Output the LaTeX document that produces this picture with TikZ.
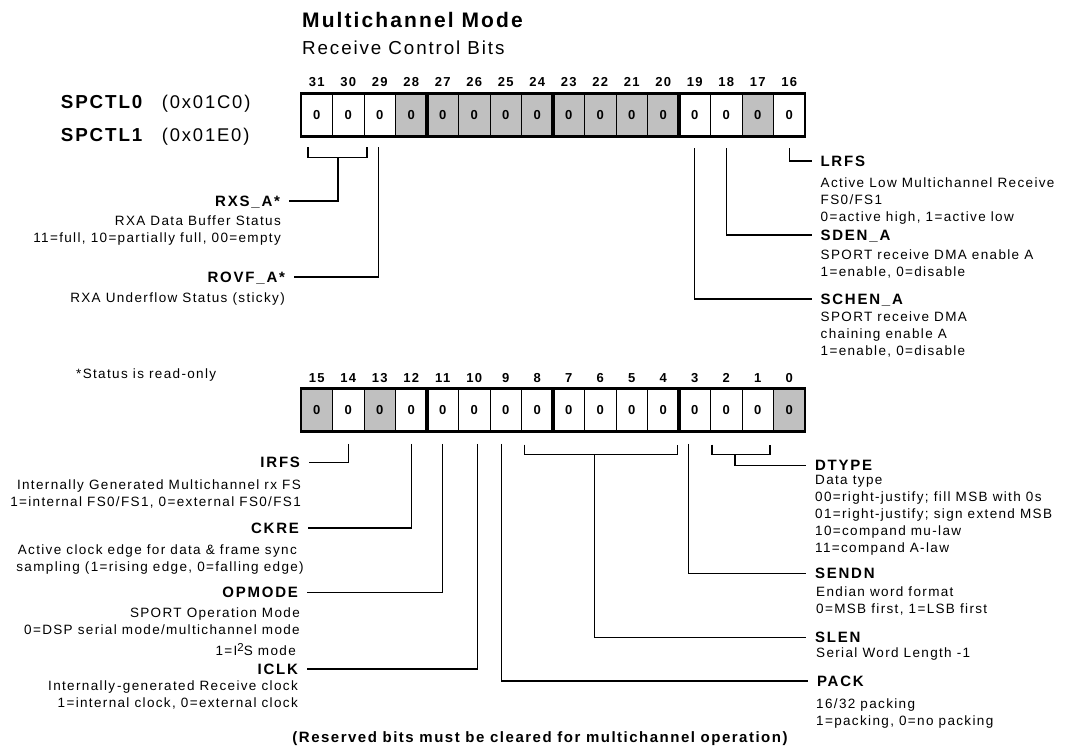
\documentclass[tikz,border=0pt]{standalone}
\usepackage{fontspec}
\setmainfont{Liberation Sans}
\newfontfamily\hv{Liberation Sans}[LetterSpace=10]
\newfontfamily\hvw{Liberation Sans}[LetterSpace=12]
\usepackage{tikz}
\usetikzlibrary{positioning}
\definecolor{resgray}{RGB}{192,192,192}

\begin{document}
\begin{tikzpicture}[x=1pt,y=-1pt,
  cell/.style={draw,line width=0.9pt,minimum width=31.5pt,minimum height=43pt,inner sep=0pt,outer sep=0pt,font=\hv\bfseries\fontsize{13}{14}\selectfont},
  bitno/.style={inner sep=0pt,font=\hv\bfseries\fontsize{13}{14}\selectfont},
  fname/.style={inner sep=0pt,outer xsep=9pt,text height=10.7pt,text depth=0pt,font=\hvw\bfseries\fontsize{15}{16}\selectfont},
  fdesc/.style={inner sep=0pt,font=\hv\fontsize{13.5}{17}\selectfont},
  conn/.style={line width=1.1pt}]
\useasboundingbox (0,0) rectangle (1072,748);
\fill[white] (0,0) rectangle (1072,748);
\node[anchor=west,inner sep=0pt,font=\hv\bfseries\fontsize{21}{22}\selectfont] (title) at (302,20){Multichannel Mode};
\node[anchor=west,inner sep=0pt,font=\hv\fontsize{18.8}{20}\selectfont] (subtitle) at (302,47.5){Receive Control Bits};
\node[anchor=base west,inner sep=0pt,font=\hv\bfseries\fontsize{18.8}{20}\selectfont] (spctl0) at (60.7,108.5){SPCTL0};
\node[anchor=base west,inner sep=0pt,font=\hv\fontsize{18.4}{20}\selectfont] (addr0) at (161.7,108.5){(0x01C0)};
\node[anchor=base west,inner sep=0pt,font=\hv\bfseries\fontsize{18.8}{20}\selectfont] (spctl1) at (60.7,141.8){SPCTL1};
\node[anchor=base west,inner sep=0pt,font=\hv\fontsize{18.4}{20}\selectfont] (addr1) at (161.7,141.8){(0x01E0)};
\node[anchor=base west,fdesc] (ronly) at (76,378.1){*Status is read-only};
\node[anchor=base,inner sep=0pt,font=\hv\bfseries\fontsize{15}{16}\selectfont] (note) at (540,742.5){(Reserved bits must be cleared for multichannel operation)};
\node[cell] (b31) at (316.75,114.7){0}; \node[cell] (b30) at (348.25,114.7){0};
\node[cell] (b29) at (379.75,114.7){0}; \node[cell,fill=resgray] (b28) at (411.25,114.7){0};
\node[cell,fill=resgray] (b27) at (442.75,114.7){0}; \node[cell,fill=resgray] (b26) at (474.25,114.7){0};
\node[cell,fill=resgray] (b25) at (505.75,114.7){0}; \node[cell,fill=resgray] (b24) at (537.25,114.7){0};
\node[cell,fill=resgray] (b23) at (568.75,114.7){0}; \node[cell,fill=resgray] (b22) at (600.25,114.7){0};
\node[cell,fill=resgray] (b21) at (631.75,114.7){0}; \node[cell,fill=resgray] (b20) at (663.25,114.7){0};
\node[cell] (b19) at (694.75,114.7){0}; \node[cell] (b18) at (726.25,114.7){0};
\node[cell,fill=resgray] (b17) at (757.75,114.7){0}; \node[cell] (b16) at (789.25,114.7){0};
\node[cell,fill=resgray] (b15) at (316.75,410.3){0}; \node[cell] (b14) at (348.25,410.3){0};
\node[cell,fill=resgray] (b13) at (379.75,410.3){0}; \node[cell] (b12) at (411.25,410.3){0};
\node[cell] (b11) at (442.75,410.3){0}; \node[cell] (b10) at (474.25,410.3){0};
\node[cell] (b9) at (505.75,410.3){0}; \node[cell] (b8) at (537.25,410.3){0};
\node[cell] (b7) at (568.75,410.3){0}; \node[cell] (b6) at (600.25,410.3){0};
\node[cell] (b5) at (631.75,410.3){0}; \node[cell] (b4) at (663.25,410.3){0};
\node[cell] (b3) at (694.75,410.3){0}; \node[cell] (b2) at (726.25,410.3){0};
\node[cell] (b1) at (757.75,410.3){0}; \node[cell,fill=resgray] (b0) at (789.25,410.3){0};
\node[bitno,above=6.5pt of b31] (n31){31}; \node[bitno,above=6.5pt of b30] (n30){30};
\node[bitno,above=6.5pt of b29] (n29){29}; \node[bitno,above=6.5pt of b28] (n28){28};
\node[bitno,above=6.5pt of b27] (n27){27}; \node[bitno,above=6.5pt of b26] (n26){26};
\node[bitno,above=6.5pt of b25] (n25){25}; \node[bitno,above=6.5pt of b24] (n24){24};
\node[bitno,above=6.5pt of b23] (n23){23}; \node[bitno,above=6.5pt of b22] (n22){22};
\node[bitno,above=6.5pt of b21] (n21){21}; \node[bitno,above=6.5pt of b20] (n20){20};
\node[bitno,above=6.5pt of b19] (n19){19}; \node[bitno,above=6.5pt of b18] (n18){18};
\node[bitno,above=6.5pt of b17] (n17){17}; \node[bitno,above=6.5pt of b16] (n16){16};
\node[bitno,above=6pt of b15] (n15){15}; \node[bitno,above=6pt of b14] (n14){14};
\node[bitno,above=6pt of b13] (n13){13}; \node[bitno,above=6pt of b12] (n12){12};
\node[bitno,above=6pt of b11] (n11){11}; \node[bitno,above=6pt of b10] (n10){10};
\node[bitno,above=6pt of b9] (n9){9}; \node[bitno,above=6pt of b8] (n8){8};
\node[bitno,above=6pt of b7] (n7){7}; \node[bitno,above=6pt of b6] (n6){6};
\node[bitno,above=6pt of b5] (n5){5}; \node[bitno,above=6pt of b4] (n4){4};
\node[bitno,above=6pt of b3] (n3){3}; \node[bitno,above=6pt of b2] (n2){2};
\node[bitno,above=6pt of b1] (n1){1}; \node[bitno,above=6pt of b0] (n0){0};
\draw[line width=2.8pt] (b31.north west) rectangle (b16.south east);
\draw[line width=2.8pt] (b15.north west) rectangle (b0.south east);
\draw[line width=3.5pt] (b28.north east) -- (b28.south east); \draw[line width=3.5pt] (b24.north east) -- (b24.south east);
\draw[line width=3.5pt] (b20.north east) -- (b20.south east); \draw[line width=3.5pt] (b12.north east) -- (b12.south east);
\draw[line width=3.5pt] (b8.north east) -- (b8.south east); \draw[line width=3.5pt] (b4.north east) -- (b4.south east);
\node[fname,anchor=east] (rxs) at (289,201){RXS\_A*};
\node[fdesc,anchor=north east,align=right] (rxsd) at (281,215.2){RXA Data Buffer Status\\11=full, 10=partially full, 00=empty};
\node[fname,anchor=east] (rovf) at (294,277){ROVF\_A*};
\node[fdesc,anchor=north east,align=right] (rovfd) at (285,292.5){RXA Underflow Status (sticky)};
\node[fname,anchor=west] (lrfs) at (811.5,161){LRFS};
\node[fdesc,anchor=north west,align=left] (lrfsd) at (820.5,177.8){Active Low Multichannel Receive\\FS0/FS1\\0=active high, 1=active low};
\node[fname,anchor=west] (sden) at (811.5,235){SDEN\_A};
\node[fdesc,anchor=north west,align=left] (sdend) at (820.5,249.5){SPORT receive DMA enable A\\1=enable, 0=disable};
\node[fname,anchor=west] (schen) at (811.5,299){SCHEN\_A};
\node[fdesc,anchor=north west,align=left] (schend) at (820.5,311.7){SPORT receive DMA\\chaining enable A\\1=enable, 0=disable};
\node[fname,anchor=east] (irfs) at (309,462.5){IRFS};
\node[fdesc,anchor=north east,align=right] (irfsd) at (301,480){Internally Generated Multichannel rx FS\\1=internal FS0/FS1, 0=external FS0/FS1};
\node[fname,anchor=east] (ckre) at (308,528){CKRE};
\node[fdesc,anchor=north east,align=right] (ckred) at (304,544.5){Active clock edge for data \& frame sync\hspace*{7pt}\\sampling (1=rising edge, 0=falling edge)};
\node[fname,anchor=east] (opmode) at (307,592.5){OPMODE};
\node[fdesc,anchor=north east,align=right] (opmoded) at (300,608){SPORT Operation Mode\\0=DSP serial mode/multichannel mode\\[4pt]1=I\raisebox{4.5pt}{\fontsize{11.5}{11.5}\selectfont 2}S mode\hspace*{4pt}};
\node[fname,anchor=east] (iclk) at (307,669){ICLK};
\node[fdesc,anchor=north east,align=right] (iclkd) at (298,681){Internally\kern2pt-generated Receive clock\\1=internal clock, 0=external clock};
\node[fname,anchor=west] (dtype) at (806,465.5){DTYPE};
\node[fdesc,anchor=north west,align=left] (dtyped) at (815,475.3){Data type\\00=right-justify; fill MSB with 0s\\01=right-justify; sign extend MSB\\10=compand mu-law\\11=compand A-law};
\node[fname,anchor=west] (sendn) at (806,573.5){SENDN};
\node[fdesc,anchor=north west,align=left] (sendnd) at (816,587){Endian word format\\0=MSB first, 1=LSB first};
\node[fname,anchor=west] (slen) at (806,637.3){SLEN};
\node[fdesc,anchor=north west,align=left] (slend) at (816,648){Serial Word Length -1};
\node[fname,anchor=west] (pack) at (808,681){PACK};
\node[fdesc,anchor=north west,align=left] (packd) at (816,698.5){16/32 packing\\1=packing, 0=no packing};
\coordinate (rxsL) at (308,147); \coordinate (rxsR) at (367,147); \coordinate (rxsM) at (338,157.7);
\coordinate (slenL) at (524.3,444.5); \coordinate (slenR) at (677.4,444.5); \coordinate (slenM) at (594.3,454.3);
\coordinate (dtL) at (712,444.5); \coordinate (dtR) at (770,444.5); \coordinate (dtM) at (735,454.3);
\draw[conn] (rxsL) |- (rxsM) -| (rxsR); \draw[conn] (rxsM) |- (rxs.east);
\draw[conn] ([xshift=-1.5pt,yshift=-11pt]b29.south) |- (rovf.east);
\draw[conn] ([yshift=-12pt]b19.south) |- (schen.west);
\draw[conn] ([yshift=-12pt]b18.south) |- (sden.west);
\draw[conn] ([yshift=-12pt]b16.south) |- (lrfs.west);
\draw[conn] ([yshift=-12pt]b14.south) |- (irfs.east);
\draw[conn] ([yshift=-12pt]b12.south) |- (ckre.east);
\draw[conn] ([yshift=-12pt]b11.south) |- (opmode.east);
\draw[conn] ([xshift=3pt,yshift=-12pt]b10.south) |- (iclk.east);
\draw[conn] ([xshift=-4.5pt,yshift=-12pt]b9.south) |- (pack.west);
\draw[conn] (slenL) |- (slenM) -| (slenR); \draw[conn] (slenM) |- (slen.west);
\draw[conn] ([xshift=-6.5pt,yshift=-12pt]b3.south) |- (sendn.west);
\draw[conn] (dtL) |- (dtM) -| (dtR); \draw[conn] (dtM) |- (dtype.west);
\end{tikzpicture}
\end{document}
